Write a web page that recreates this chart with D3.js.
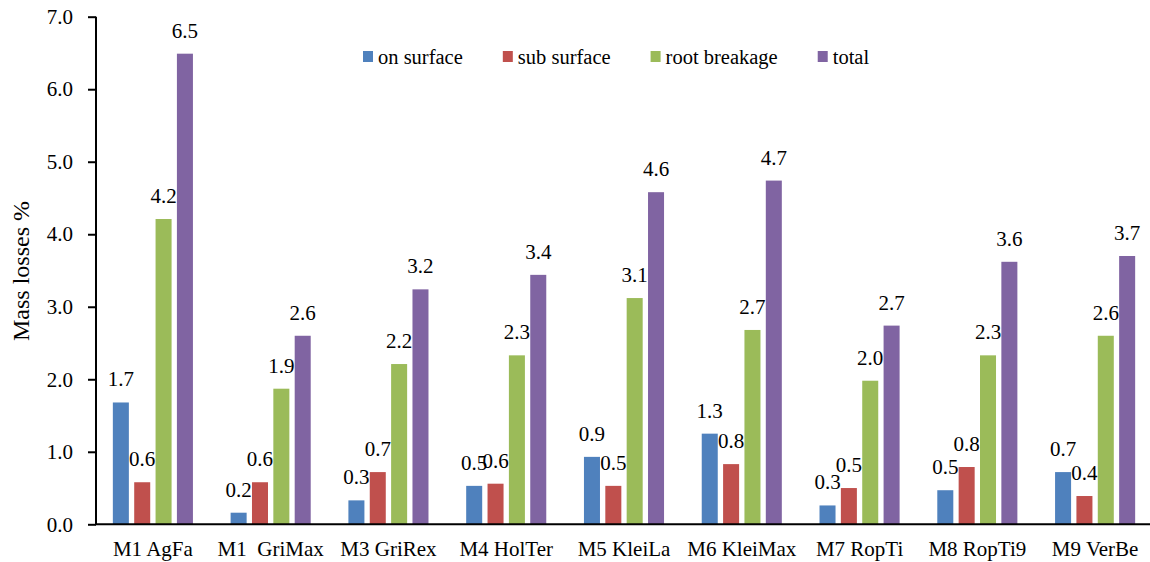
<!DOCTYPE html>
<html>
<head>
<meta charset="utf-8">
<script src="https://cdn.jsdelivr.net/npm/d3@7"></script>
<style>
  body { margin: 0; background: #fff; }
  svg text { font-family: 'Liberation Serif', Tinos, 'Times New Roman', 'DejaVu Serif', serif !important; fill: #000; }
</style>
</head>
<body>
<svg id="chart"></svg>
<script>
// categories and series
const categories = ['M1 AgFa', 'M1  GriMax', 'M3 GriRex', 'M4 HolTer', 'M5 KleiLa',
  'M6 KleiMax', 'M7 RopTi', 'M8 RopTi9', 'M9 VerBe'];
const seriesNames = ['on surface', 'sub surface', 'root breakage', 'total'];
const onSurface    = [1.68, 0.16, 0.33, 0.53, 0.93, 1.25, 0.26, 0.47, 0.72];
const subSurface   = [0.58, 0.58, 0.72, 0.56, 0.53, 0.83, 0.50, 0.79, 0.39];
const rootBreakage = [4.21, 1.87, 2.21, 2.33, 3.12, 2.68, 1.98, 2.33, 2.60];
const total        = [6.49, 2.60, 3.24, 3.44, 4.58, 4.74, 2.74, 3.62, 3.70];
const yTicks = [0, 1, 2, 3, 4, 5, 6, 7];
const colors = ['#4F81BD', '#C0504D', '#9BBB59', '#8064A2'];

const seriesValues = [onSurface, subSurface, rootBreakage, total];
const width = 1150, height = 562;
const axisX = 96;
const fontFamily = "'Liberation Serif', Tinos, 'Times New Roman', 'DejaVu Serif', serif";

const svg = d3.select('#chart')
  .attr('width', width)
  .attr('height', height)
  .attr('font-family', fontFamily);

const y = d3.scaleLinear().domain([0, 7]).range([524.3, 16.7]);

const x0 = d3.scaleBand()
  .domain(categories)
  .range([94, 1154])
  .paddingInner(0.32)
  .paddingOuter(0.16);

const x1 = d3.scaleBand()
  .domain(seriesNames)
  .range([0, x0.bandwidth()])
  .paddingInner(0.25);

const color = d3.scaleOrdinal(seriesNames, colors);

// bars
const groups = svg.append('g').selectAll('g')
  .data(categories)
  .join('g')
  .attr('transform', d => `translate(${x0(d)},0)`);

groups.selectAll('rect')
  .data((d, i) => seriesNames.map((s, k) => ({ s, v: seriesValues[k][i] })))
  .join('rect')
  .attr('x', d => x1(d.s))
  .attr('width', x1.bandwidth())
  .attr('y', d => y(d.v))
  .attr('height', d => y(0) - y(d.v))
  .attr('fill', d => color(d.s));

// value labels
groups.selectAll('text.val')
  .data((d, i) => seriesNames.map((s, k) => ({ s, v: seriesValues[k][i] })))
  .join('text')
  .attr('class', 'val')
  .attr('x', d => x1(d.s) + x1.bandwidth() / 2)
  .attr('y', d => y(d.v) - 16)
  .attr('text-anchor', 'middle')
  .style('font-size', '21px')
  .text(d => d3.format('.1f')(d.v));

// y axis
const yAxisG = svg.append('g')
  .attr('transform', `translate(${axisX},0)`)
  .call(d3.axisLeft(y).tickValues(yTicks).tickFormat(d3.format('.1f'))
    .tickSize(8).tickPadding(15).tickSizeOuter(0));
yAxisG.attr('font-family', null);
yAxisG.select('.domain').remove();
yAxisG.selectAll('.tick line').attr('stroke', '#000').attr('stroke-width', 2);
yAxisG.selectAll('.tick text').style('font-size', '21px');

svg.append('line')
  .attr('x1', axisX).attr('x2', axisX)
  .attr('y1', y(7)).attr('y2', y(0))
  .attr('stroke', '#000').attr('stroke-width', 2);

// x axis
const xAxisG = svg.append('g')
  .attr('transform', `translate(0,${y(0)})`)
  .call(d3.axisBottom(x0).tickSize(0).tickPadding(0));
xAxisG.attr('font-family', null);
xAxisG.select('.domain').remove();
xAxisG.selectAll('.tick text')
  .attr('y', 32)
  .attr('dy', 0)
  .style('white-space', 'pre')
  .style('font-size', '21px');

svg.append('line')
  .attr('x1', axisX - 1).attr('x2', width)
  .attr('y1', y(0)).attr('y2', y(0))
  .attr('stroke', '#000').attr('stroke-width', 2);

// y axis title
svg.append('text')
  .attr('transform', `translate(29, 271) rotate(-90)`)
  .attr('text-anchor', 'middle')
  .style('font-size', '24px')
  .text('Mass losses %');

// legend
const legend = svg.append('g').attr('transform', 'translate(363,57)');
let lx = 0;
seriesNames.forEach((s, k) => {
  const item = legend.append('g').attr('transform', `translate(${lx},0)`);
  item.append('rect')
    .attr('x', 0).attr('y', -6)
    .attr('width', 10).attr('height', 11)
    .attr('fill', colors[k]);
  const t = item.append('text')
    .attr('x', 15).attr('y', 7)
    .style('font-size', '20.5px')
    .text(s);
  lx += 15 + t.node().getComputedTextLength() + 40;
});
</script>
</body>
</html>
